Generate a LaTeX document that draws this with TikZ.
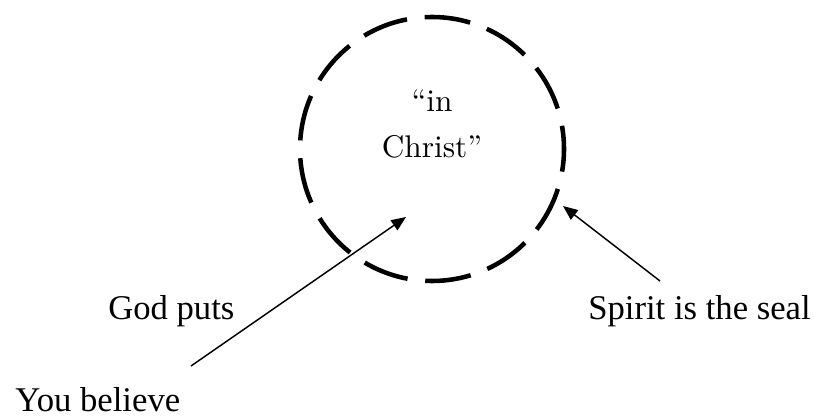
\documentclass[tikz,border=0pt]{standalone}
\usepackage{fontspec}
\newfontfamily\timesfont{Liberation Serif}
\newfontfamily\ringfont{lmroman10-regular.otf}
\usetikzlibrary{arrows.meta}

\begin{document}
\begin{tikzpicture}[
  x=0.75pt, y=-0.75pt,
  every node/.style={inner sep=0pt},
  sealring/.style={draw=black, circle, minimum size=198pt, line width=3.4pt,
                   dash pattern=on 34.5pt off 13.35pt, dash phase=17pt},
  ringtext/.style={font=\ringfont\fontsize{23.5}{34.5}\selectfont, align=center},
  note/.style={font=\timesfont\fontsize{26}{30}\selectfont, anchor=base west},
  arr/.style={-{Triangle[length=11pt, width=9pt]}, line width=1.1pt, black},
]
  \useasboundingbox (0,0) rectangle (813,417);

  \node[sealring] (ring) at (432,149) {};
  \node[ringtext] (inchrist) at (432,124) {“in\\Christ”};

  \node[note] (godputs) at (108,319) {God puts};
  \node[note] (seal) at (588,319) {Spirit is the seal};
  \node[note] (believe) at (15,411) {You believe};

  % arrow ends
  \coordinate (believetail) at (191,366);
  \coordinate (intip) at (406,217);
  \coordinate (sealtail) at (660,281);
  \coordinate (sealtip) at (563,206);

  \draw[arr] (believetail) -- (intip);
  \draw[arr] (sealtail) -- (sealtip);
\end{tikzpicture}
\end{document}
